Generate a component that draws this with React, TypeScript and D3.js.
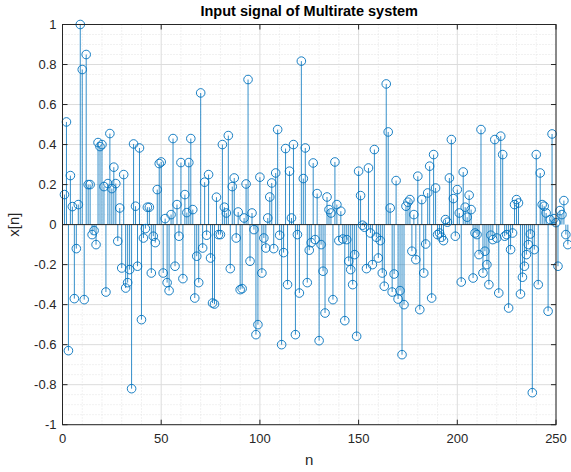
import React from "react";
import * as d3 from "d3";

const values: number[] = [
  0.15, 0.513, -0.63, 0.245, 0.09, -0.37, -0.12, 0.1, 1.0, 0.775,
  -0.375, 0.85, 0.2, 0.2, -0.05, -0.03, -0.1, 0.41, 0.39, 0.4,
  0.19, -0.337, 0.205, 0.455, 0.18, 0.287, 0.205, -0.083, 0.083, -0.217,
  0.25, -0.317, -0.29, -0.225, -0.82, 0.403, 0.092, -0.208, 0.383, -0.475,
  -0.067, -0.02, 0.087, 0.087, -0.242, -0.058, -0.09, 0.175, 0.305, 0.313,
  -0.242, 0.03, -0.29, -0.33, 0.05, 0.43, -0.208, 0.1, -0.058, 0.31,
  -0.27, 0.15, 0.06, 0.31, 0.43, 0.075, -0.367, -0.158, -0.29, 0.658,
  -0.117, 0.212, -0.053, 0.25, -0.167, -0.392, -0.397, 0.137, -0.05, -0.05,
  0.4, 0.087, 0.058, 0.445, -0.22, 0.19, 0.233, -0.067, 0.063, -0.325,
  -0.32, 0.033, 0.203, 0.725, -0.183, 0.058, -0.025, -0.55, -0.5, 0.237,
  -0.242, -0.067, -0.117, 0.033, 0.138, 0.208, -0.12, 0.258, 0.475, -0.053,
  -0.6, -0.14, 0.38, -0.3, 0.267, 0.033, 0.4, -0.55, -0.05, -0.342,
  0.817, 0.23, 0.383, -0.29, -0.128, -0.09, 0.308, -0.075, 0.155, -0.58,
  -0.1, -0.233, -0.442, 0.138, 0.075, 0.058, -0.375, 0.313, 0.1, -0.08,
  0.067, -0.072, -0.48, -0.075, -0.183, -0.225, -0.3, -0.15, -0.558, 0.267,
  0.145, -0.003, -0.013, -0.22, 0.283, -0.042, -0.2, 0.375, -0.063, -0.167,
  -0.08, -0.242, -0.308, 0.703, 0.463, 0.083, -0.337, -0.247, 0.22, -0.372,
  -0.33, -0.65, -0.4, 0.092, 0.112, 0.125, -0.133, 0.05, -0.175, 0.242,
  -0.425, 0.125, -0.242, -0.097, 0.158, 0.292, -0.367, 0.35, 0.183, -0.05,
  -0.042, -0.063, -0.08, 0.025, 0.012, 0.233, 0.425, 0.13, -0.058, 0.175,
  0.058, -0.287, 0.263, 0.087, 0.037, 0.147, 0.075, -0.267, -0.042, -0.05,
  -0.15, 0.475, -0.242, -0.133, -0.2, -0.3, -0.053, -0.075, 0.425, -0.067,
  -0.342, 0.442, 0.35, -0.058, -0.05, -0.417, -0.125, -0.042, 0.1, 0.125,
  0.108, -0.347, -0.263, -0.208, -0.15, -0.1, -0.047, -0.84, -0.125, 0.35,
  -0.3, 0.258, 0.1, 0.092, 0.058, -0.433, 0.025, 0.453, 0.03, 0.01,
  -0.208, 0.07, 0.05, 0.12, -0.05, -0.1,
];

const xTicks: number[] = [0, 50, 100, 150, 200, 250];
const yTicks: number[] = [-1, -0.8, -0.6, -0.4, -0.2, 0, 0.2, 0.4, 0.6, 0.8, 1];
const xMinor: number[] = d3.range(10, 250, 10);
const yMinor: number[] = d3.range(-0.95, 1, 0.05);

const titleText = "Input signal of Multirate system";
const xLabel = "n";
const yLabel = "x[n]";

export default function App() {
  const W = 571, H = 472;
  const L = 62.5, R = 556, T = 24.5, B = 424.7;
  const x = d3.scaleLinear().domain([0, 250]).range([L, R]);
  const y = d3.scaleLinear().domain([-1, 1]).range([B, T]);
  const blue = "#0072BD";
  const axisCol = "#262626";
  const font = "'Liberation Sans', Arial, Helvetica, sans-serif";
  const tickLen = 5;
  return (
    <svg width={W} height={H} style={{ position: "absolute", left: 0, top: 0, background: "#fff" }} fontFamily={font}>
      <rect x={0} y={0} width={W} height={H} fill="#fff" />
      {xMinor.filter((v) => v % 50 !== 0).map((v) => (
        <line key={"xm" + v} x1={x(v)} x2={x(v)} y1={T} y2={B} stroke="#e3e3e3" strokeDasharray="1,2" />
      ))}
      {yMinor.filter((v) => Math.abs(Math.round(v * 100)) % 20 !== 0).map((v, i) => (
        <line key={"ym" + i} x1={L} x2={R} y1={y(v)} y2={y(v)} stroke="#e3e3e3" strokeDasharray="1,2" />
      ))}
      {xTicks.map((v) => (
        <line key={"xg" + v} x1={x(v)} x2={x(v)} y1={T} y2={B} stroke="#dcdcdc" />
      ))}
      {yTicks.map((v) => (
        <line key={"yg" + v} x1={L} x2={R} y1={y(v)} y2={y(v)} stroke="#dcdcdc" />
      ))}
      {values.map((v, i) => (
        <line key={"s" + i} x1={x(i + 1)} x2={x(i + 1)} y1={y(0)} y2={y(v)} stroke={blue} strokeWidth={0.8} />
      ))}
      <line x1={L} x2={R} y1={y(0)} y2={y(0)} stroke={axisCol} strokeWidth={1} />
      {values.map((v, i) => (
        <circle key={"c" + i} cx={x(i + 1)} cy={y(v)} r={4.3} fill="none" stroke={blue} strokeWidth={0.9} />
      ))}
      <rect x={L} y={T} width={R - L} height={B - T} fill="none" stroke={axisCol} strokeWidth={1} />
      {xTicks.map((v) => (
        <g key={"xt" + v}>
          <line x1={x(v)} x2={x(v)} y1={B} y2={B - tickLen} stroke={axisCol} />
          <line x1={x(v)} x2={x(v)} y1={T} y2={T + tickLen} stroke={axisCol} />
          <text x={x(v)} y={B + 18} textAnchor="middle" fontSize={13} fill={axisCol}>{v}</text>
        </g>
      ))}
      {yTicks.map((v) => (
        <g key={"yt" + v}>
          <line x1={L} x2={L + tickLen} y1={y(v)} y2={y(v)} stroke={axisCol} />
          <line x1={R} x2={R - tickLen} y1={y(v)} y2={y(v)} stroke={axisCol} />
          <text x={L - 6} y={y(v) + 4.5} textAnchor="end" fontSize={13} fill={axisCol}>{String(v)}</text>
        </g>
      ))}
      <text x={(L + R) / 2} y={16} textAnchor="middle" fontSize={14.5} fontWeight="bold" fill="#000">{titleText}</text>
      <text x={(L + R) / 2} y={465} textAnchor="middle" fontSize={15} fill={axisCol}>{xLabel}</text>
      <text transform={`translate(19, ${(T + B) / 2}) rotate(-90)`} textAnchor="middle" fontSize={15} fill={axisCol}>{yLabel}</text>
    </svg>
  );
}
